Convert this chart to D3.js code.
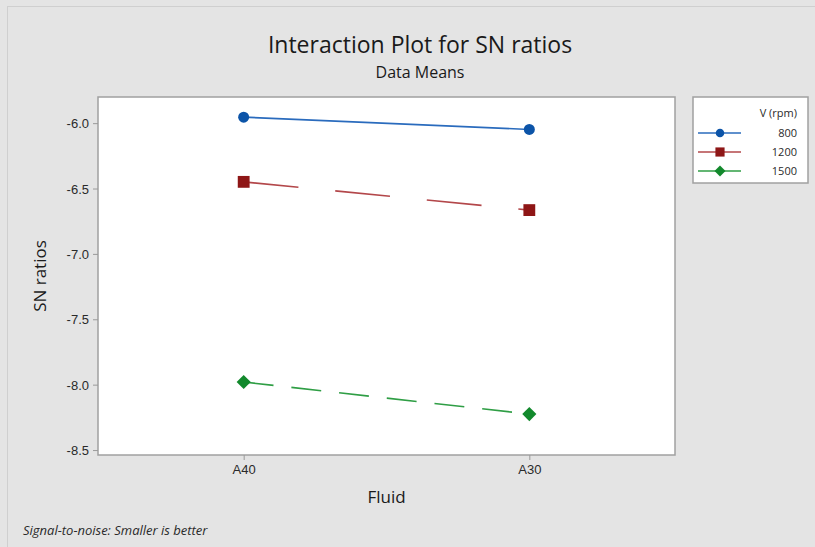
<!DOCTYPE html>
<html>
<head>
<meta charset="utf-8">
<script src="https://cdn.jsdelivr.net/npm/d3@7"></script>
<style>
  body { margin: 0; background: #e4e4e4; }
  svg { display: block; font-family: "Open Sans", "Noto Sans", sans-serif; }
</style>
</head>
<body>
<div id="chart"></div>
<script>
// data
const fluids = ["A40", "A30"];
const speeds = ["800", "1200", "1500"];
const sn800 = [-5.954, -6.048];
const sn1200 = [-6.449, -6.665];
const sn1500 = [-7.980, -8.225];
const yTicks = [-6.0, -6.5, -7.0, -7.5, -8.0, -8.5];

const width = 815;
const height = 547;
const plot = {left: 98, right: 675, top: 97, bottom: 455};

// diamond = square turned 45deg (d3's diamond is too tall)
const series = [
  {name: speeds[0], values: sn800, line: "#2a6bbd", mark: "#0c54a8", dash: null, sym: d3.symbolCircle, size: 95, rot: 0},
  {name: speeds[1], values: sn1200, line: "#b3474a", mark: "#8e1616", dash: "55,37", sym: d3.symbolSquare, size: 140, rot: 0},
  {name: speeds[2], values: sn1500, line: "#2f9e45", mark: "#12892c", dash: "30,18", sym: d3.symbolSquare, size: 100, rot: 45}
];

const svg = d3.select('#chart')
  .append('svg')
  .attr('width', width)
  .attr('height', height);

// page background + outer frame
svg.append('rect')
  .attr('x', 0).attr('y', 0)
  .attr('width', width).attr('height', height)
  .attr('fill', '#e4e4e4');
svg.append('rect')
  .attr('x', 7.5).attr('y', 6.5)
  .attr('width', width - 6).attr('height', height)
  .attr('fill', 'none')
  .attr('stroke', '#cfcfcf');

const x = d3.scalePoint()
  .domain(fluids)
  .range([plot.left, plot.right])
  .padding(0.51);

const y = d3.scaleLinear()
  .domain([-8.538, -5.8])
  .range([plot.bottom, plot.top]);

// plot area
svg.append('rect')
  .attr('x', plot.left).attr('y', plot.top)
  .attr('width', plot.right - plot.left)
  .attr('height', plot.bottom - plot.top)
  .attr('fill', '#fff')
  .attr('stroke', '#a0a0a0')
  .attr('stroke-width', 1.5);

// axes
const yAxis = svg.append('g')
  .attr('transform', `translate(${plot.left},0)`)
  .call(d3.axisLeft(y).tickValues(yTicks).tickFormat(d => d.toFixed(1)).tickSize(5).tickSizeOuter(0));
const xAxis = svg.append('g')
  .attr('transform', `translate(0,${plot.bottom})`)
  .call(d3.axisBottom(x).tickSize(5).tickSizeOuter(0));

[yAxis, xAxis].forEach(a => {
  a.select('.domain').remove();
  a.selectAll('.tick line').attr('stroke', '#9a9a9a');
  a.selectAll('.tick text')
    .attr('fill', '#2a2a2a')
    .style('font-size', '13px');
});
yAxis.selectAll('.tick text').attr('x', -9).attr('dy', '0.36em');
xAxis.selectAll('.tick text').attr('y', 9).attr('dy', '0.8em');

// lines
const line = d3.line()
  .x((d, i) => x(fluids[i]))
  .y(d => y(d));

series.forEach(s => {
  svg.append('path')
    .datum(s.values)
    .attr('d', line)
    .attr('fill', 'none')
    .attr('stroke', s.line)
    .attr('stroke-width', 1.6)
    .attr('stroke-dasharray', s.dash);

  svg.selectAll(null)
    .data(s.values)
    .join('path')
    .attr('transform', (d, i) => `translate(${x(fluids[i])},${y(d)}) rotate(${s.rot})`)
    .attr('d', d3.symbol().type(s.sym).size(s.size))
    .attr('fill', s.mark);
});

// titles
svg.append('text')
  .attr('x', 420).attr('y', 53)
  .attr('text-anchor', 'middle')
  .style('font-size', '23px')
  .attr('fill', '#1a1a1a')
  .text('Interaction Plot for SN ratios');
svg.append('text')
  .attr('x', 420).attr('y', 78)
  .attr('text-anchor', 'middle')
  .style('font-size', '16px')
  .attr('fill', '#1a1a1a')
  .text('Data Means');

svg.append('text')
  .attr('transform', `translate(46,${(plot.top + plot.bottom) / 2}) rotate(-90)`)
  .attr('text-anchor', 'middle')
  .style('font-size', '17px')
  .attr('fill', '#1a1a1a')
  .text('SN ratios');

svg.append('text')
  .attr('x', (plot.left + plot.right) / 2).attr('y', 503)
  .attr('text-anchor', 'middle')
  .style('font-size', '17px')
  .attr('fill', '#1a1a1a')
  .text('Fluid');

svg.append('text')
  .attr('x', 23).attr('y', 535)
  .style('font-size', '13px')
  .style('font-style', 'italic')
  .attr('fill', '#2a2a2a')
  .text('Signal-to-noise: Smaller is better');

// legend
const lg = svg.append('g');
lg.append('rect')
  .attr('x', 693).attr('y', 97)
  .attr('width', 115).attr('height', 86)
  .attr('fill', '#fff')
  .attr('stroke', '#a0a0a0')
  .attr('stroke-width', 1.5);
lg.append('text')
  .attr('x', 797).attr('y', 117)
  .attr('text-anchor', 'end')
  .style('font-size', '11px')
  .attr('fill', '#2a2a2a')
  .text('V (rpm)');

const item = lg.selectAll('.item')
  .data(series)
  .join('g')
  .attr('class', 'item')
  .attr('transform', (d, i) => `translate(0,${133 + i * 19})`);
item.append('line')
  .attr('x1', 698).attr('x2', 741)
  .attr('stroke', d => d.line)
  .attr('stroke-width', 1.6);
item.append('path')
  .attr('transform', d => `translate(720,0) rotate(${d.rot})`)
  .attr('d', d => d3.symbol().type(d.sym).size(d.size * 0.6)())
  .attr('fill', d => d.mark);
item.append('text')
  .attr('x', 797).attr('dy', '0.36em')
  .attr('text-anchor', 'end')
  .style('font-size', '11px')
  .attr('fill', '#2a2a2a')
  .text(d => d.name);
</script>
</body>
</html>
